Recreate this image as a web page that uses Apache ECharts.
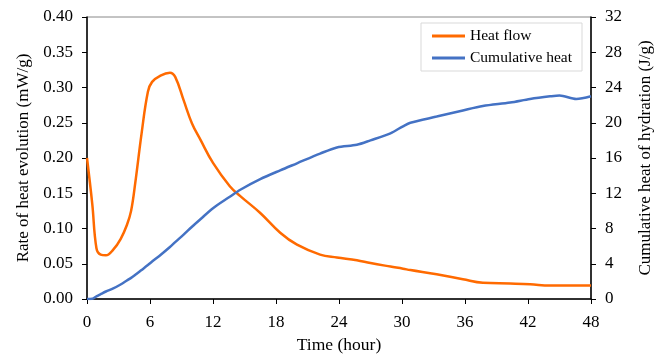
<!DOCTYPE html>
<html>
<head>
<meta charset="utf-8">
<script src="https://cdn.jsdelivr.net/npm/echarts@6/dist/echarts.min.js"></script>
<style>
  html, body { margin: 0; padding: 0; background: #fff; }
</style>
</head>
<body>
<div id="echart" style="width:655px;height:356px"></div>
<script>
// time in hours, shared by both curves
var hours = [0, 0.5, 0.9, 1.3, 1.8, 2.5, 3.2, 3.8, 4.2, 4.6, 5.2, 5.8, 6.2, 7, 7.9, 8.4, 9.2, 10, 10.8, 12,
  13.6, 14.6, 16.5, 18.4, 20, 22.2, 23.8, 25.7, 27, 28.9, 30.1, 30.8, 33.3, 35.8, 37.7, 40.3, 42.2, 44.1, 45, 46.6, 48]
// mW/g
var heatFlow = [0.200, 0.135, 0.072, 0.063, 0.062, 0.070, 0.085, 0.105, 0.125, 0.165, 0.235, 0.294, 0.308, 0.317, 0.321,
  0.315, 0.282, 0.249, 0.226, 0.193, 0.160, 0.146, 0.122, 0.094, 0.077, 0.063, 0.059, 0.055, 0.051, 0.046, 0.043,
  0.041, 0.035, 0.028, 0.023, 0.022, 0.021, 0.019, 0.019, 0.019, 0.019]
// J/g
var cumHeat = [0, 0.02, 0.3, 0.55, 0.85, 1.2, 1.65, 2.1, 2.4, 2.75, 3.3, 3.85, 4.25, 5.0, 5.9, 6.45, 7.3, 8.2, 9.05, 10.3,
  11.6, 12.4, 13.6, 14.6, 15.4, 16.5, 17.2, 17.5, 18.0, 18.8, 19.6, 20.0, 20.7, 21.4, 21.9, 22.3, 22.7, 23.0, 23.1, 22.7, 23.0]
var xTicks = [0, 6, 12, 18, 24, 30, 36, 42, 48]

var font = 'Liberation Serif'
var myChart = echarts.init(document.getElementById('echart'))

function pairs(ys) {
  return hours.map(function (h, i) { return [h, ys[i]] })
}

myChart.setOption({
  animation: false,
  textStyle: { fontFamily: font, color: '#000' },
  grid: {
    left: 87, right: 64, top: 17, bottom: 57,
    outerBoundsMode: 'none',
    show: true, borderColor: '#888', borderWidth: 1
  },
  legend: {
    orient: 'vertical',
    left: 421, top: 23,
    padding: [5, 10, 5, 11],
    itemGap: 6,
    itemWidth: 33, itemHeight: 3,
    icon: 'rect',
    borderColor: '#d9d9d9', borderWidth: 1,
    textStyle: { fontFamily: font, fontSize: 15.5, color: '#000' },
    data: ['Heat flow', 'Cumulative heat']
  },
  xAxis: {
    type: 'value',
    min: 0, max: 48, interval: 6,
    name: 'Time (hour)',
    nameLocation: 'middle',
    nameGap: 37,
    nameTextStyle: { fontFamily: font, fontSize: 17.5, color: '#000' },
    axisLine: { lineStyle: { color: '#000', width: 1.5 } },
    axisTick: { lineStyle: { color: '#000' }, length: 5 },
    axisLabel: {
      fontFamily: font, fontSize: 17, color: '#000', margin: 15,
      formatter: function (v) { return xTicks.indexOf(v) >= 0 ? String(v) : '' }
    },
    splitLine: { show: false }
  },
  yAxis: [
    {
      type: 'value',
      min: 0, max: 0.4, interval: 0.05,
      name: 'Rate of heat evolution (mW/g)',
      nameLocation: 'middle',
      nameGap: 55,
      nameTextStyle: { fontFamily: font, fontSize: 17, color: '#000' },
      axisLine: { show: true, lineStyle: { color: '#000', width: 1.5 } },
      axisTick: { show: true, lineStyle: { color: '#000' }, length: 5 },
      axisLabel: {
        fontFamily: font, fontSize: 17, color: '#000', margin: 14,
        formatter: function (v) { return v.toFixed(2) }
      },
      splitLine: { show: false }
    },
    {
      type: 'value',
      position: 'right',
      min: 0, max: 32, interval: 4,
      name: 'Cumulative heat of hydration (J/g)',
      nameLocation: 'middle',
      nameGap: 46,
      nameRotate: 90,
      nameTextStyle: { fontFamily: font, fontSize: 17, color: '#000' },
      axisLine: { show: true, lineStyle: { color: '#000', width: 1.5 } },
      axisTick: { show: true, lineStyle: { color: '#000' }, length: 5 },
      axisLabel: { fontFamily: font, fontSize: 17, color: '#000', margin: 14 },
      splitLine: { show: false }
    }
  ],
  series: [
    {
      name: 'Heat flow',
      type: 'line',
      yAxisIndex: 0,
      smooth: 0.4,
      showSymbol: false,
      color: '#FF6A00',
      lineStyle: { width: 2.5, color: '#FF6A00' },
      data: pairs(heatFlow)
    },
    {
      name: 'Cumulative heat',
      type: 'line',
      yAxisIndex: 1,
      smooth: 0.3,
      showSymbol: false,
      color: '#4472C4',
      lineStyle: { width: 2.5, color: '#4472C4' },
      data: pairs(cumHeat)
    }
  ]
})
</script>
</body>
</html>
